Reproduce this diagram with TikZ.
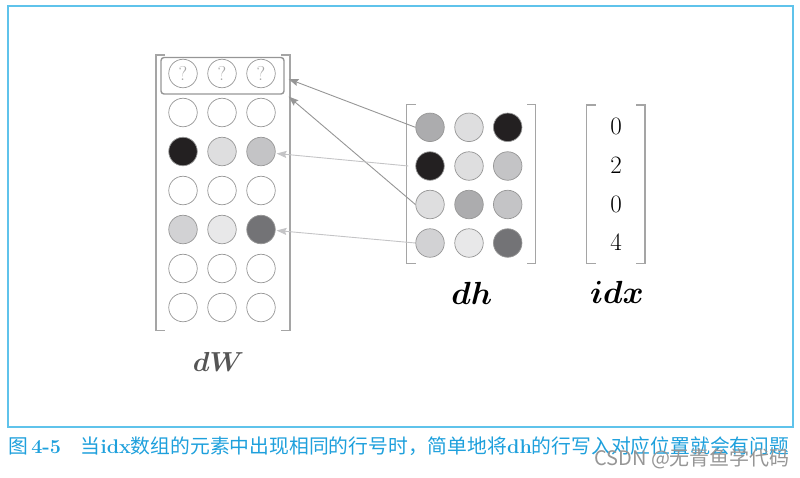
\documentclass[tikz,border=0pt]{standalone}
\usepackage{fix-cm}
\usepackage{fontspec}
\usepackage{bm}
\newfontfamily\cjk{Noto Sans CJK SC}
\usetikzlibrary{arrows.meta}
\definecolor{frameblue}{RGB}{95,195,235}
\definecolor{capblue}{RGB}{30,160,220}
\definecolor{cA}{RGB}{172,172,174}
\definecolor{cB}{RGB}{222,222,223}
\definecolor{cK}{RGB}{35,32,33}
\definecolor{cC}{RGB}{196,196,198}
\definecolor{cD}{RGB}{210,210,212}
\definecolor{cE}{RGB}{232,232,233}
\definecolor{cF}{RGB}{115,115,118}
\definecolor{brk}{RGB}{165,165,165}
\definecolor{ring}{RGB}{150,150,150}
\begin{document}
\begin{tikzpicture}[x=1pt,y=-1pt,
  dot/.style={circle, draw=ring, line width=0.7pt, minimum size=28.5pt, inner sep=0pt},
  brack/.style={draw=brk, line width=1.1pt},
  darrow/.style={draw=ring, line width=0.9pt, -{Stealth[length=10pt,width=7pt,inset=1.5pt]}},
  larrow/.style={draw=cC, line width=0.9pt, -{Stealth[length=10pt,width=7pt,inset=1.5pt]}},
  lbl/.style={inner sep=0pt}
]
\useasboundingbox (0,0) rectangle (800,477);
\draw[frameblue, line width=2pt] (8,6) rectangle (793,427);

% dW bracket
\draw[brack] (165,55) -- (156,55) -- (156,330.5) -- (165,330.5);
\draw[brack] (281,55) -- (290,55) -- (290,330.5) -- (281,330.5);
% dW circles
\foreach \r/\y/\ca/\cb/\cc in {1/73.5/white/white/white, 2/112.5/white/white/white,
  3/151.5/cK/cB/cC, 4/190.5/white/white/white, 5/229.5/cD/cE/cF,
  6/268.5/white/white/white, 7/307.5/white/white/white}{
  \node[dot, fill=\ca] (w\r1) at (183,\y) {};
  \node[dot, fill=\cb] (w\r2) at (222,\y) {};
  \node[dot, fill=\cc] (w\r3) at (261,\y) {};
}
\foreach \c in {1,2,3}{
  \node[text={rgb,255:red,165;green,165;blue,165}, font=\fontsize{20}{20}\selectfont, inner sep=0pt] (q\c) at (w1\c) {?};
}
\node[draw=ring, line width=1.4pt, rounded corners=3pt, minimum width=123pt, minimum height=36.5pt, inner sep=0pt] (box) at (222.5,75.75) {};
\node[lbl, text={rgb,255:red,85;green,85;blue,85}] (dWl) at (218.5,362) {\fontsize{27.5}{27.5}\selectfont$\bm{dW}$};

% dh bracket
\draw[brack] (415.5,104.3) -- (406.7,104.3) -- (406.7,263.3) -- (415.5,263.3);
\draw[brack] (527,104.3) -- (535.7,104.3) -- (535.7,263.3) -- (527,263.3);
\foreach \r/\y/\ca/\cb/\cc in {1/127.3/cA/cB/cK, 2/166/cK/cB/cC, 3/204.5/cB/cA/cC, 4/243/cD/cE/cF}{
  \node[dot, fill=\ca] (h\r1) at (430,\y) {};
  \node[dot, fill=\cb] (h\r2) at (469,\y) {};
  \node[dot, fill=\cc] (h\r3) at (507.7,\y) {};
}
\node[lbl] (dhl) at (471.7,293) {\fontsize{32}{32}\selectfont$\bm{dh}$};

% idx
\draw[brack] (595.5,105) -- (586.7,105) -- (586.7,263.3) -- (595.5,263.3);
\draw[brack] (636.2,105) -- (645,105) -- (645,263.3) -- (636.2,263.3);
\foreach \i/\y/\v in {1/126.5/0, 2/165/2, 3/204.5/0, 4/242/4}{
  \node[lbl] (i\i) at (616,\y) {\fontsize{25}{25}\selectfont \v};
}
\node[lbl] (idxl) at (617,292) {\fontsize{32}{32}\selectfont$\bm{idx}$};

% arrows
\coordinate (t1) at (288.5,79);
\coordinate (t2) at (288.5,96.5);
\coordinate (t3) at (276.5,153.5);
\coordinate (t4) at (276.5,230.5);
\draw[darrow] (h11.west) -- (t1);
\draw[darrow] (h31.west) -- (t2);
\draw[larrow] ([xshift=-7pt]h21.west) -- (t3);
\draw[larrow] (h41.west) -- (t4);

% caption
\node[anchor=west, inner sep=0pt, text=capblue] (cap) at (8,446)
 {\fontsize{19.8}{19.8}\selectfont{\cjk 图}\,\textbf{4-5}\hspace{1em}{\cjk 当}\textbf{idx}{\cjk 数组的元素中出现相同的行号时，简单地将}\textbf{dh}{\cjk 的行写入对应位置就会有问题}};
\node[anchor=west, inner sep=0pt, text={rgb,255:red,150;green,150;blue,150}] (wm) at (594,459)
 {\fontsize{20}{20}\selectfont\cjk CSDN @无青鱼学代码};
\end{tikzpicture}
\end{document}
